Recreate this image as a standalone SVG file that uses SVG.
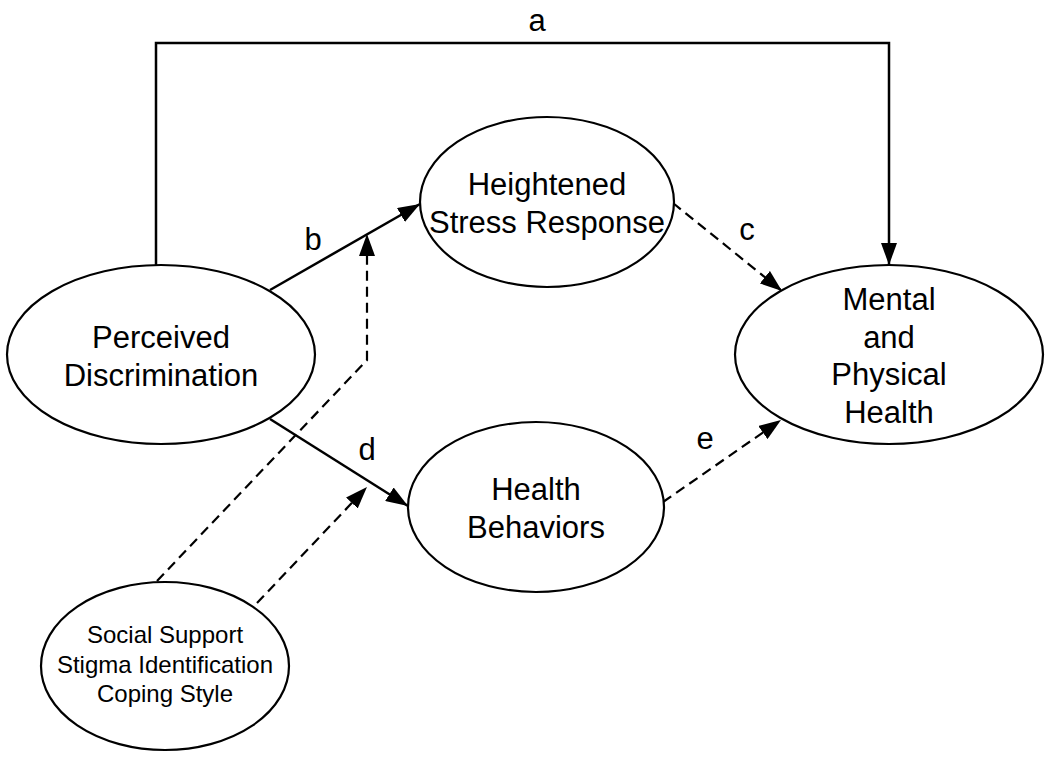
<svg xmlns="http://www.w3.org/2000/svg" width="1050" height="760" viewBox="0 0 1050 760">
<style>
  .node ellipse { fill: #fff; stroke: #000; stroke-width: 2.2; }
  text { font-family: "Liberation Sans", Arial, sans-serif; fill: #000; text-anchor: middle; }
  .big { font-size: 31px; }
  .small { font-size: 24px; }
  .solid { fill: none; stroke: #000; stroke-width: 2.5; }
  .dash { fill: none; stroke: #000; stroke-width: 2.2; stroke-dasharray: 10 6; }
</style>
<defs>
  <marker id="arrow" viewBox="0 0 22 16" refX="22" refY="8" markerWidth="22" markerHeight="16" markerUnits="userSpaceOnUse" orient="auto">
    <path d="M0,0 L22,8 L0,16 z" fill="#000"/>
  </marker>
</defs>
<rect width="1050" height="760" fill="#fff"/>
<g id="connectors">
  <path class="solid" d="M156,266 L156,43 L889,43 L889,265" marker-end="url(#arrow)"/>
  <path class="solid" d="M270,290 L420,204" marker-end="url(#arrow)"/>
  <path class="solid" d="M270,419 L408,506" marker-end="url(#arrow)"/>
  <path class="dash" d="M673,203 L782,291" marker-end="url(#arrow)"/>
  <path class="dash" d="M663,502 L781,420" marker-end="url(#arrow)"/>
  <path class="dash" d="M157,581 L367,360 L367,234" marker-end="url(#arrow)"/>
  <path class="dash" d="M257,603 L367,487" marker-end="url(#arrow)"/>
  <text class="big" x="537" y="31">a</text>
  <text class="big" x="313" y="250">b</text>
  <text class="big" x="747" y="240">c</text>
  <text class="big" x="367" y="460">d</text>
  <text class="big" x="705" y="449">e</text>
</g>
<g id="node-perceived" class="node">
  <ellipse cx="161" cy="354.5" rx="154" ry="89.5"/>
  <text class="big" x="161" y="348">Perceived</text>
  <text class="big" x="161" y="386">Discrimination</text>
</g>
<g id="node-stress" class="node">
  <ellipse cx="547" cy="202" rx="127" ry="85"/>
  <text class="big" x="547" y="195">Heightened</text>
  <text class="big" x="547" y="233">Stress Response</text>
</g>
<g id="node-behaviors" class="node">
  <ellipse cx="536" cy="507" rx="128" ry="85"/>
  <text class="big" x="536" y="500">Health</text>
  <text class="big" x="536" y="538">Behaviors</text>
</g>
<g id="node-health" class="node">
  <ellipse cx="889" cy="354.5" rx="154" ry="89.5"/>
  <text class="big" x="889" y="310">Mental</text>
  <text class="big" x="889" y="348">and</text>
  <text class="big" x="889" y="385">Physical</text>
  <text class="big" x="889" y="423">Health</text>
</g>
<g id="node-moderators" class="node">
  <ellipse cx="165" cy="666" rx="124" ry="84"/>
  <text class="small" x="165" y="643">Social Support</text>
  <text class="small" x="165" y="673">Stigma Identification</text>
  <text class="small" x="165" y="702">Coping Style</text>
</g>
</svg>
